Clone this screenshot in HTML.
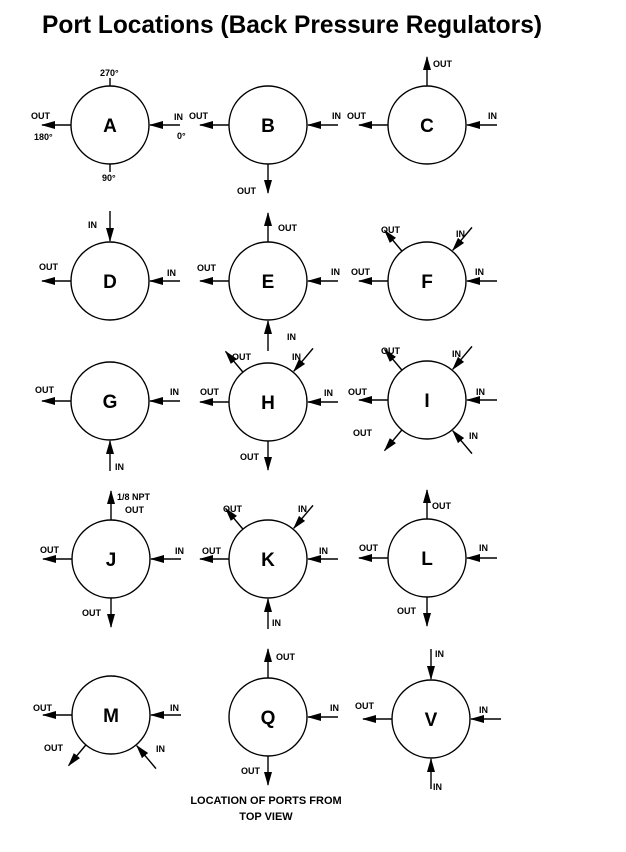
<!DOCTYPE html>
<html><head><meta charset="utf-8"><style>
body{margin:0;background:#fff}
svg{display:block}
text{font-family:"Liberation Sans",Arial,sans-serif;font-weight:bold;fill:#000}
.l{font-size:9px}
.c{font-size:19px;text-anchor:middle}
.p line{stroke:#000;stroke-width:1.4;marker-end:url(#ah)}
circle{fill:#fff;stroke:#000;stroke-width:1.4}
</style></head><body>
<svg width="626" height="852" viewBox="0 0 626 852" xmlns="http://www.w3.org/2000/svg">
<defs><marker id="ah" markerUnits="userSpaceOnUse" markerWidth="14" markerHeight="10" refX="13" refY="4" orient="auto"><path d="M0,0 L14,4 L0,8 Z" fill="#000"/></marker></defs>
<text x="42" y="33" font-size="25" textLength="500" lengthAdjust="spacingAndGlyphs">Port Locations (Back Pressure Regulators)</text>

<!-- A -->
<g transform="translate(110,125)"><circle r="39"/><g class="p"><line x1="-39" x2="-68"/><line x1="70" x2="40"/></g>
<line x1="0" y1="-39" x2="0" y2="-47" stroke="#000" stroke-width="1.4"/><line x1="0" y1="39" x2="0" y2="47" stroke="#000" stroke-width="1.4"/>
<text class="c" y="7">A</text></g>
<text class="l" x="100" y="76">270°</text><text class="l" x="31" y="119">OUT</text><text class="l" x="34" y="140">180°</text>
<text class="l" x="174" y="120">IN</text><text class="l" x="177" y="139">0°</text><text class="l" x="102" y="181">90°</text>

<!-- B -->
<g transform="translate(268,125)"><circle r="39"/><g class="p"><line x1="-39" x2="-68"/><line x1="70" x2="40"/><line y1="39" y2="68"/></g><text class="c" y="7">B</text></g>
<text class="l" x="189" y="119">OUT</text><text class="l" x="332" y="119">IN</text><text class="l" x="237" y="194">OUT</text>

<!-- C -->
<g transform="translate(427,125)"><circle r="39"/><g class="p"><line x1="-39" x2="-68"/><line x1="70" x2="40"/><line y1="-39" y2="-68"/></g><text class="c" y="7">C</text></g>
<text class="l" x="433" y="67">OUT</text><text class="l" x="347" y="119">OUT</text><text class="l" x="488" y="119">IN</text>

<!-- D -->
<g transform="translate(110,281)"><circle r="39"/><g class="p"><line x1="-39" x2="-68"/><line x1="70" x2="40"/><line y1="-70" y2="-40"/></g><text class="c" y="7">D</text></g>
<text class="l" x="88" y="228">IN</text><text class="l" x="39" y="270">OUT</text><text class="l" x="167" y="276">IN</text>

<!-- E -->
<g transform="translate(268,281)"><circle r="39"/><g class="p"><line x1="-39" x2="-68"/><line x1="70" x2="40"/><line y1="-39" y2="-68"/><line y1="70" y2="40"/></g><text class="c" y="7">E</text></g>
<text class="l" x="278" y="231">OUT</text><text class="l" x="197" y="271">OUT</text><text class="l" x="331" y="275">IN</text><text class="l" x="287" y="340">IN</text>

<!-- F -->
<g transform="translate(427,281)"><circle r="39"/><g class="p"><line x1="-39" x2="-68"/><line x1="70" x2="40"/><line transform="rotate(-130)" x1="39" x2="66"/><line transform="rotate(-50)" x1="70" x2="40"/></g><text class="c" y="7">F</text></g>
<text class="l" x="381" y="233">OUT</text><text class="l" x="456" y="237">IN</text><text class="l" x="351" y="275">OUT</text><text class="l" x="475" y="275">IN</text>

<!-- G -->
<g transform="translate(110,401)"><circle r="39"/><g class="p"><line x1="-39" x2="-68"/><line x1="70" x2="40"/><line y1="70" y2="40"/></g><text class="c" y="7">G</text></g>
<text class="l" x="35" y="393">OUT</text><text class="l" x="170" y="395">IN</text><text class="l" x="115" y="470">IN</text>

<!-- H -->
<g transform="translate(268,402)"><circle r="39"/><g class="p"><line x1="-39" x2="-68"/><line x1="70" x2="40"/><line y1="39" y2="68"/><line transform="rotate(-130)" x1="39" x2="66"/><line transform="rotate(-50)" x1="70" x2="40"/></g><text class="c" y="7">H</text></g>
<text class="l" x="232" y="360">OUT</text><text class="l" x="292" y="360">IN</text><text class="l" x="200" y="395">OUT</text><text class="l" x="324" y="396">IN</text><text class="l" x="240" y="460">OUT</text>

<!-- I -->
<g transform="translate(427,400)"><circle r="39"/><g class="p"><line x1="-39" x2="-68"/><line x1="70" x2="40"/><line transform="rotate(-130)" x1="39" x2="66"/><line transform="rotate(-50)" x1="70" x2="40"/><line transform="rotate(130)" x1="39" x2="66"/><line transform="rotate(50)" x1="70" x2="40"/></g><text class="c" y="7">I</text></g>
<text class="l" x="381" y="354">OUT</text><text class="l" x="452" y="357">IN</text><text class="l" x="348" y="395">OUT</text><text class="l" x="476" y="395">IN</text><text class="l" x="353" y="436">OUT</text><text class="l" x="469" y="439">IN</text>

<!-- J -->
<g transform="translate(111,559)"><circle r="39"/><g class="p"><line x1="-39" x2="-68"/><line x1="70" x2="40"/><line y1="-39" y2="-68"/><line y1="39" y2="68"/></g><text class="c" y="7">J</text></g>
<text class="l" x="117" y="500">1/8 NPT</text><text class="l" x="125" y="513">OUT</text><text class="l" x="40" y="553">OUT</text><text class="l" x="175" y="554">IN</text><text class="l" x="82" y="616">OUT</text>

<!-- K -->
<g transform="translate(268,559)"><circle r="39"/><g class="p"><line x1="-39" x2="-68"/><line x1="70" x2="40"/><line y1="70" y2="40"/><line transform="rotate(-130)" x1="39" x2="66"/><line transform="rotate(-50)" x1="70" x2="40"/></g><text class="c" y="7">K</text></g>
<text class="l" x="223" y="512">OUT</text><text class="l" x="298" y="512">IN</text><text class="l" x="202" y="554">OUT</text><text class="l" x="319" y="554">IN</text><text class="l" x="272" y="626">IN</text>

<!-- L -->
<g transform="translate(427,558)"><circle r="39"/><g class="p"><line x1="-39" x2="-68"/><line x1="70" x2="40"/><line y1="-39" y2="-68"/><line y1="39" y2="68"/></g><text class="c" y="7">L</text></g>
<text class="l" x="432" y="509">OUT</text><text class="l" x="359" y="551">OUT</text><text class="l" x="479" y="551">IN</text><text class="l" x="397" y="614">OUT</text>

<!-- M -->
<g transform="translate(111,715)"><circle r="39"/><g class="p"><line x1="-39" x2="-68"/><line x1="70" x2="40"/><line transform="rotate(130)" x1="39" x2="66"/><line transform="rotate(50)" x1="70" x2="40"/></g><text class="c" y="7">M</text></g>
<text class="l" x="33" y="711">OUT</text><text class="l" x="170" y="711">IN</text><text class="l" x="44" y="751">OUT</text><text class="l" x="156" y="752">IN</text>

<!-- Q -->
<g transform="translate(268,717)"><circle r="39"/><g class="p"><line x1="70" x2="40"/><line y1="-39" y2="-68"/><line y1="39" y2="68"/></g><text class="c" y="7">Q</text></g>
<text class="l" x="276" y="660">OUT</text><text class="l" x="330" y="711">IN</text><text class="l" x="241" y="774">OUT</text>

<!-- V -->
<g transform="translate(431,719)"><circle r="39"/><g class="p"><line x1="-39" x2="-68"/><line x1="70" x2="40"/><line y1="-70" y2="-40"/><line y1="70" y2="40"/></g><text class="c" y="7">V</text></g>
<text class="l" x="435" y="657">IN</text><text class="l" x="355" y="709">OUT</text><text class="l" x="479" y="713">IN</text><text class="l" x="433" y="790">IN</text>

<text class="l" x="266" y="804" font-size="11" text-anchor="middle" style="font-size:11px">LOCATION OF PORTS FROM</text>
<text class="l" x="266" y="820" text-anchor="middle" style="font-size:11px">TOP VIEW</text>
</svg>
</body></html>
